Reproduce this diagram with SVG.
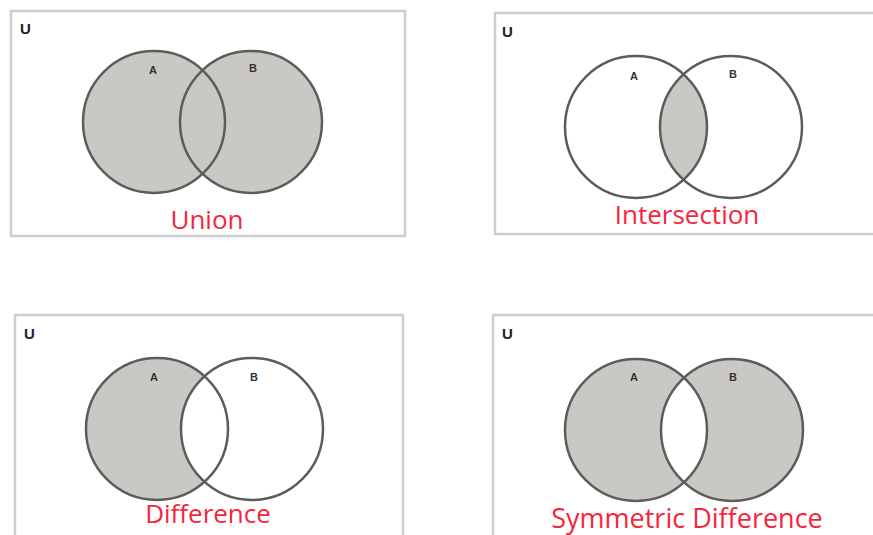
<svg xmlns="http://www.w3.org/2000/svg" width="873" height="535" viewBox="0 0 873 535">
<style>
.box{fill:#ffffff;stroke:#cdcdcd;stroke-width:2.5}
.fillg{fill:#c9c8c4;stroke:none}
.fillw{fill:#ffffff;stroke:none}
.ring{fill:none;stroke:#5c5c5a;stroke-width:2.5}
.u{font-family:"Liberation Sans",Arial,sans-serif;font-weight:bold;font-size:15px;fill:#222222}
.ab{font-family:"Liberation Sans",Arial,sans-serif;font-weight:bold;font-size:11px;fill:#333333;text-anchor:middle}
.title{font-family:"Open Sans","Liberation Sans",sans-serif;font-size:26px;fill:#f5263b;text-anchor:middle}
</style>
<defs>
<clipPath id="clipA2"><circle cx="636" cy="127" r="71"/></clipPath>
<clipPath id="clipA3"><circle cx="157" cy="429" r="71"/></clipPath>
<clipPath id="clipA4"><circle cx="636" cy="430" r="71"/></clipPath>
</defs>
<rect width="873" height="535" fill="#ffffff"/>

<g id="union">
<rect class="box" x="11" y="11" width="394" height="225"/>
<text class="u" x="20" y="34">U</text>
<circle class="fillg" cx="154" cy="122" r="71"/>
<circle class="fillg" cx="251" cy="122" r="71"/>
<circle class="ring" cx="154" cy="122" r="71"/>
<circle class="ring" cx="251" cy="122" r="71"/>
<text class="ab" x="153" y="74">A</text>
<text class="ab" x="253" y="72">B</text>
<text class="title" x="207" y="229">Union</text>
</g>

<g id="intersection">
<rect class="box" x="495" y="13" width="390" height="221"/>
<text class="u" x="502" y="37">U</text>
<circle class="fillw" cx="636" cy="127" r="71"/>
<circle class="fillw" cx="731" cy="127" r="71"/>
<circle class="fillg" cx="731" cy="127" r="71" clip-path="url(#clipA2)"/>
<circle class="ring" cx="636" cy="127" r="71"/>
<circle class="ring" cx="731" cy="127" r="71"/>
<text class="ab" x="634" y="80">A</text>
<text class="ab" x="733" y="78">B</text>
<text class="title" x="687" y="224">Intersection</text>
</g>

<g id="difference">
<rect class="box" x="15" y="315" width="388" height="240"/>
<text class="u" x="24" y="339">U</text>
<circle class="fillg" cx="157" cy="429" r="71"/>
<circle class="fillw" cx="252" cy="429" r="71" clip-path="url(#clipA3)"/>
<circle class="ring" cx="157" cy="429" r="71"/>
<circle class="ring" cx="252" cy="429" r="71"/>
<text class="ab" x="154" y="381">A</text>
<text class="ab" x="254" y="381">B</text>
<text class="title" x="208" y="523">Difference</text>
</g>

<g id="symmetric-difference">
<rect class="box" x="493" y="315" width="392" height="240"/>
<text class="u" x="502" y="339">U</text>
<circle class="fillg" cx="636" cy="430" r="71"/>
<circle class="fillg" cx="732" cy="430" r="71"/>
<circle class="fillw" cx="732" cy="430" r="71" clip-path="url(#clipA4)"/>
<circle class="ring" cx="636" cy="430" r="71"/>
<circle class="ring" cx="732" cy="430" r="71"/>
<text class="ab" x="634" y="381">A</text>
<text class="ab" x="733" y="381">B</text>
<text class="title" x="687" y="528" style="font-size:27px">Symmetric Difference</text>
</g>

<g id="connectors"></g>
</svg>
